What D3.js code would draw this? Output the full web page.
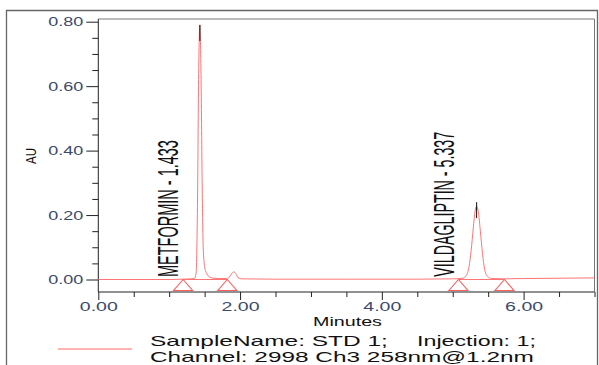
<!DOCTYPE html>
<html><head><meta charset="utf-8">
<script src="https://cdn.jsdelivr.net/npm/d3@7"></script>
<style>body{margin:0;background:#fff}svg{display:block}</style>
</head><body>
<svg id="c" width="599" height="365"></svg>
<script>
// ---- data ----
const times = [0.00, 0.50, 1.00, 1.20, 1.30, 1.36, 1.38, 1.40, 1.415, 1.433, 1.45, 1.465, 1.48, 1.50, 1.53, 1.57, 1.62, 1.70, 1.80, 1.85, 1.88, 1.91, 1.94, 1.97, 2.02, 2.50, 3.00, 3.50, 4.00, 4.50, 5.00, 5.14, 5.19, 5.23, 5.26, 5.29, 5.315, 5.337, 5.36, 5.39, 5.42, 5.45, 5.49, 5.55, 5.70, 6.00, 6.50, 7.00];
const au    = [0.000, 0.000, 0.000, 0.001, 0.002, 0.004, 0.020, 0.250, 0.620, 0.790, 0.620, 0.300, 0.100, 0.040, 0.018, 0.008, 0.004, 0.003, 0.003, 0.008, 0.018, 0.024, 0.018, 0.006, 0.002, 0.001, 0.001, 0.001, 0.001, 0.001, 0.002, 0.004, 0.012, 0.040, 0.090, 0.160, 0.212, 0.228, 0.212, 0.150, 0.080, 0.032, 0.010, 0.003, 0.002, 0.003, 0.004, 0.005];
const peakNames = ["METFORMIN - 1.433", "VILDAGLIPTIN - 5.337"];
const peakTimes = [1.433, 5.337];
const peakHeights = [0.790, 0.240];
const baselineMarks = [[1.196, 1.82], [5.08, 5.73]];
const yMajor = [0.00, 0.20, 0.40, 0.60, 0.80];
const yMinor = [0.05, 0.10, 0.15, 0.25, 0.30, 0.35, 0.45, 0.50, 0.55, 0.65, 0.70, 0.75];
const xMajor = [0, 2, 4, 6];
const xMinor = [0.5, 1, 1.5, 2.5, 3, 3.5, 4.5, 5, 5.5, 6.5, 7];
const xTitle = "Minutes";
const yTitle = "AU";
const legendLine1a = "SampleName: STD 1;";
const legendLine1b = "Injection: 1;";
const legendLine2 = "Channel: 2998 Ch3 258nm@1.2nm";

// ---- layout ----
const svg = d3.select("#c");
const L = 98.3, R = 594.5, T = 19, B = 292;
const x = d3.scaleLinear().domain([0, 7]).range([L, R]);
const y = d3.scaleLinear().domain([0, 0.8]).range([279.5, 21.7]);
const red = "#ff7474", tickCol = "#3b4a6b";
const FONT = "Liberation Sans, Arial, sans-serif";

// text fitted to a measured length via a scale transform
function fitText(t, tx, ty, rot, len, size, fill) {
  const el = svg.append("text").text(t).style("font-family", FONT).style("font-size", size + "px").attr("fill", fill);
  const nat = el.node().getComputedTextLength();
  el.attr("transform", `translate(${tx},${ty}) rotate(${rot}) scale(${len / nat},1)`);
  return el;
}

// outer frame
svg.append("path").attr("d", `M6.5,365 V10.5 H597.5 V365`).attr("fill", "none").attr("stroke", "#666").attr("stroke-width", 1.3);

// plot frame
svg.append("path").attr("d", `M${L},${T} H${R} V${B}`).attr("fill", "none").attr("stroke", "#777").attr("stroke-width", 1);
svg.append("path").attr("d", `M${L},${T} V${B} H${R}`).attr("fill", "none").attr("stroke", "#222").attr("stroke-width", 1);

// y axis
const yAx = svg.append("g").attr("transform", `translate(${L},0)`)
  .call(d3.axisLeft(y).tickValues(yMajor).tickSize(12).tickPadding(3).tickFormat(d3.format(".2f")));
yAx.select(".domain").remove();
yAx.selectAll("line").attr("stroke", "#222");
yAx.selectAll("text").attr("fill", tickCol).style("font-family", FONT)
  .style("font-size", "12.5px").attr("textLength", 35).attr("lengthAdjust", "spacingAndGlyphs");
const yAxm = svg.append("g").attr("transform", `translate(${L},0)`)
  .call(d3.axisLeft(y).tickValues(yMinor).tickSize(6).tickFormat(""));
yAxm.select(".domain").remove();
yAxm.selectAll("line").attr("stroke", "#222");

// x axis
const xAx = svg.append("g").attr("transform", `translate(0,${B})`)
  .call(d3.axisBottom(x).tickValues(xMajor).tickSize(8).tickPadding(2).tickFormat(d3.format(".2f")));
xAx.select(".domain").remove();
xAx.selectAll("line").attr("stroke", "#222");
xAx.selectAll("text").attr("fill", tickCol).style("font-family", FONT)
  .style("font-size", "12.5px").attr("textLength", 38).attr("lengthAdjust", "spacingAndGlyphs");
const xAxm = svg.append("g").attr("transform", `translate(0,${B})`)
  .call(d3.axisBottom(x).tickValues(xMinor).tickSize(5).tickFormat(""));
xAxm.select(".domain").remove();
xAxm.selectAll("line").attr("stroke", "#222");

// titles
fitText(xTitle, 313, 325.5, 0, 69, 13, "#111");
fitText(yTitle, 35.5, 164, -90, 16, 14.5, "#111");

// trace
const pts = times.map((t, i) => [t, au[i]]);
svg.append("path").datum(pts)
  .attr("d", d3.line().x(d => x(d[0])).y(d => y(d[1])).curve(d3.curveMonotoneX))
  .attr("fill", "none").attr("stroke", red).attr("stroke-width", 1);

// integration baselines and triangles
baselineMarks.forEach(([a, b]) => {
  svg.append("line").attr("x1", x(a)).attr("x2", x(b)).attr("y1", y(0)).attr("y2", y(0))
    .attr("stroke", red).attr("stroke-width", 1);
  [a, b].forEach(t => {
    const cx = x(t), cy = y(0);
    svg.append("path").attr("d", `M${cx},${cy} L${cx + 9.5},${cy + 11} L${cx - 9.5},${cy + 11} Z`)
      .attr("fill", "none").attr("stroke", "#ff5c5c").attr("stroke-width", 1.1);
  });
});

// apex markers
peakTimes.forEach((t, i) => {
  svg.append("line").attr("x1", x(t)).attr("x2", x(t)).attr("y1", y(peakHeights[i])).attr("y2", y(peakHeights[i]) + 16)
    .attr("stroke", "#111").attr("stroke-width", 1);
});

// peak labels
const labelPos = [[178, 277, 137], [453.5, 276.7, 145]];
peakNames.forEach((n, i) => {
  const [lx, ly, len] = labelPos[i];
  fitText(n, lx, ly, -90, len, 30, "#111");
});

// legend
svg.append("line").attr("x1", 58).attr("x2", 132).attr("y1", 349).attr("y2", 349)
  .attr("stroke", "#ff9a9a").attr("stroke-width", 1.5);
fitText(legendLine1a, 150, 346, 0, 238, 14, "#111");
fitText(legendLine1b, 417, 346, 0, 119, 14, "#111");
fitText(legendLine2, 150, 362, 0, 384, 14, "#111");
</script>
</body></html>
